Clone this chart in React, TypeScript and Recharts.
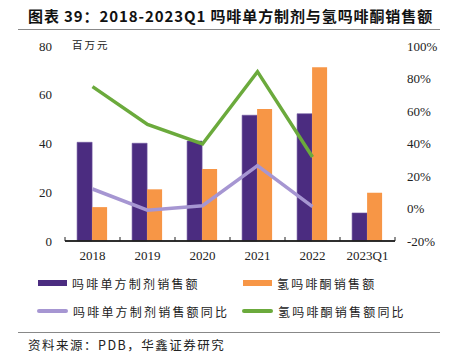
import React from "react";
import { ComposedChart, Bar, Line, XAxis, YAxis, ReferenceLine } from "recharts";

const categories = ["2018", "2019", "2020", "2021", "2022", "2023Q1"];
const morphineSales = [40.5, 40.1, 41, 51.6, 52.2, 11.5];
const hydromorphoneSales = [13.9, 21.2, 29.5, 54.2, 71.3, 19.8];
const morphineYoY: (number | null)[] = [12, -1, 1.7, 26.4, 1.1, null];
const hydromorphoneYoY: (number | null)[] = [75, 51.8, 39.7, 84.2, 31.7, null];
const leftTicks = [0, 20, 40, 60, 80];
const rightTicks = [-20, 0, 20, 40, 60, 80, 100];

const seriesNames = {
  a: "吗啡单方制剂销售额",
  b: "氢吗啡酮销售额",
  c: "吗啡单方制剂销售额同比",
  d: "氢吗啡酮销售额同比",
};

const COLORS = {
  a: "#4B2C80",
  b: "#F79646",
  c: "#A696D2",
  d: "#6BAA3C",
};

const data = categories.map((c, i) => ({
  name: c,
  a: morphineSales[i],
  b: hydromorphoneSales[i],
  c: morphineYoY[i],
  d: hydromorphoneYoY[i],
}));

const serif = "'Liberation Serif', 'Times New Roman', serif";
const cjk = "'Noto Sans CJK SC', sans-serif";
const X_TICK_MARGIN = 10;
const TICK_MARK = 4;

function XTick(props: any) {
  const { x, y, payload, index, visibleTicksCount, width } = props;
  const count = visibleTicksCount ?? categories.length;
  const half =
    payload && typeof payload.offset === "number" && payload.offset > 0
      ? payload.offset
      : typeof width === "number" && count > 0
      ? width / count / 2
      : 0;
  const axisY = y - X_TICK_MARGIN;
  const isLast = index === count - 1;
  return (
    <g>
      <line x1={x - half} x2={x + half} y1={axisY} y2={axisY} stroke="#222" strokeWidth={1.3} />
      <line x1={x - half} x2={x - half} y1={axisY} y2={axisY - TICK_MARK} stroke="#222" strokeWidth={1} />
      {isLast && <line x1={x + half} x2={x + half} y1={axisY} y2={axisY - TICK_MARK} stroke="#222" strokeWidth={1} />}
      <text x={x} y={y} dy="0.71em" textAnchor="middle" fontFamily={serif} fontSize={13} fill="#222">
        {payload.value}
      </text>
    </g>
  );
}

function LeftTick(props: any) {
  const { x, y, payload } = props;
  return (
    <text x={x} y={y} dy="0.355em" textAnchor="end" fontFamily={serif} fontSize={13} fill="#222">
      {payload.value}
    </text>
  );
}

function RightTick(props: any) {
  const { x, y, payload } = props;
  return (
    <text x={x} y={y} dy="0.355em" textAnchor="start" fontFamily={serif} fontSize={13} fill="#222">
      {`${payload.value}%`}
    </text>
  );
}

function LegendItem({ kind, color, label, left, top }: { kind: "rect" | "line"; color: string; label: string; left: number; top: number }) {
  return (
    <div style={{ position: "absolute", left, top, display: "flex", alignItems: "center", height: 16 }}>
      {kind === "rect" ? (
        <div style={{ width: 29, height: 6, background: color }} />
      ) : (
        <div style={{ width: 31, height: 3.5, background: color, borderRadius: 2 }} />
      )}
      <span style={{ marginLeft: 5, fontFamily: cjk, fontSize: 12, letterSpacing: 2.2, color: "#222", whiteSpace: "nowrap" }}>{label}</span>
    </div>
  );
}

export default function App() {
  return (
    <div style={{ position: "absolute", left: 0, top: 0, width: 450, height: 355, background: "#fff", overflow: "hidden" }}>
      <div style={{ position: "absolute", left: 28, top: 5, fontFamily: cjk, fontWeight: 700, fontSize: 15, letterSpacing: 0.9, color: "#111", whiteSpace: "nowrap" }}>
        图表 39：2018-2023Q1 吗啡单方制剂与氢吗啡酮销售额
      </div>
      <div style={{ position: "absolute", left: 18, top: 29, width: 422, height: 1, background: "#888" }} />
      <div style={{ position: "absolute", left: 72, top: 37, fontFamily: cjk, fontSize: 10.5, letterSpacing: 2, color: "#222" }}>百万元</div>
      <div style={{ position: "absolute", left: 0, top: 0, fontFamily: serif }}>
        <ComposedChart width={450} height={270} data={data} margin={{ top: 46, right: 0, bottom: 0, left: 0 }} barCategoryGap="22%" barGap={0}>
          <XAxis
            dataKey="name"
            height={29}
            axisLine={false}
            tickLine={false}
            tickSize={0}
            tickMargin={X_TICK_MARGIN}
            interval={0}
            tick={<XTick />}
          />
          <YAxis
            yAxisId="left"
            domain={[0, 80]}
            ticks={leftTicks}
            width={65}
            axisLine={false}
            tickLine={false}
            tickSize={0}
            tickMargin={13}
            tick={<LeftTick />}
          />
          <YAxis
            yAxisId="right"
            orientation="right"
            domain={[-20, 100]}
            ticks={rightTicks}
            width={55}
            axisLine={false}
            tickLine={false}
            tickSize={0}
            tickMargin={12}
            tick={<RightTick />}
          />
          <Bar yAxisId="left" dataKey="a" fill={COLORS.a} stroke="#6E55A0" strokeWidth={0.6} isAnimationActive={false} />
          <Bar yAxisId="left" dataKey="b" fill={COLORS.b} isAnimationActive={false} />
          <ReferenceLine yAxisId="left" y={0} stroke="#222" strokeWidth={1.3} ifOverflow="visible" />
          <Line yAxisId="right" dataKey="c" stroke={COLORS.c} strokeWidth={3.5} dot={false} isAnimationActive={false} connectNulls={false} />
          <Line yAxisId="right" dataKey="d" stroke={COLORS.d} strokeWidth={3.5} dot={false} isAnimationActive={false} connectNulls={false} />
        </ComposedChart>
      </div>
      <LegendItem kind="rect" color={COLORS.a} label={seriesNames.a} left={38} top={275} />
      <LegendItem kind="rect" color={COLORS.b} label={seriesNames.b} left={243} top={275} />
      <LegendItem kind="line" color={COLORS.c} label={seriesNames.c} left={37} top={303} />
      <LegendItem kind="line" color={COLORS.d} label={seriesNames.d} left={242} top={303} />
      <div style={{ position: "absolute", left: 18, top: 332, width: 422, height: 1, background: "#888" }} />
      <div style={{ position: "absolute", left: 28, top: 335, fontFamily: cjk, fontSize: 12.5, letterSpacing: 1.5, color: "#222", whiteSpace: "nowrap" }}>
        资料来源：PDB，华鑫证券研究
      </div>
    </div>
  );
}
